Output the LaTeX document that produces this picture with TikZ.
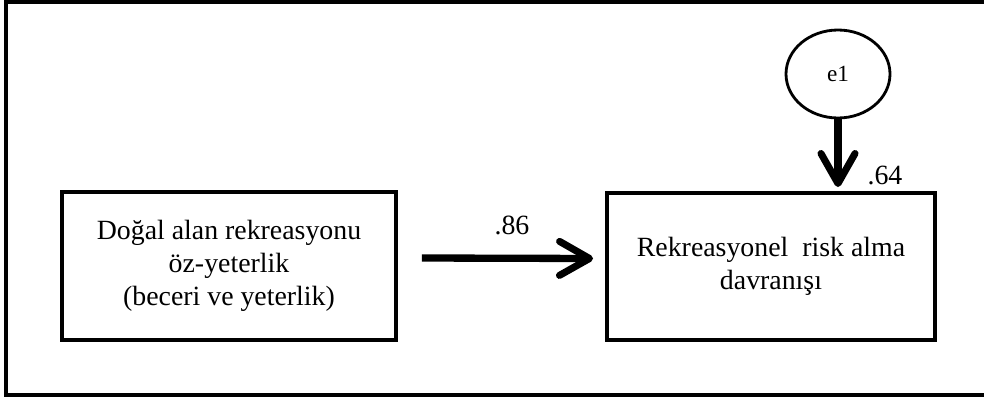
\documentclass[tikz,border=0pt]{standalone}
\usepackage{fontspec}
\setmainfont{Liberation Serif}
\usetikzlibrary{arrows.meta,shapes.geometric}

\begin{document}
\begin{tikzpicture}[
  varbox/.style={draw, line width=2.8pt, align=center, font=\fontsize{19.8}{23.4}\selectfont},
  errnode/.style={draw, ellipse, line width=2pt, minimum width=2.6cm, minimum height=2.2cm, font=\fontsize{16.5}{19}\selectfont},
  patharrow/.style={line width=5.2pt, -{Straight Barb[length=0.75cm,width=0.85cm,round,line width=5pt]}},
  coef/.style={font=\fontsize{19.8}{23.4}\selectfont}
]
\useasboundingbox (0,0) rectangle (24.6,9.925);
\draw [line width=2.8pt] (24.6,9.87) -- (0.16,9.87) -- (0.16,0.06) -- (24.6,0.06);
\node [varbox, minimum width=8.35cm, minimum height=3.7cm] (dogal) at (5.725,3.275) {Do\u{g}al alan rekreasyonu\\\"oz-yeterlik\\(beceri ve yeterlik)};
\node [varbox, minimum width=8.2cm, minimum height=3.675cm] (risk) at (19.275,3.2625) {Rekreasyonel\ \ risk alma\\davran\i\c{s}\i};
\node [errnode] (e1) at (20.95,8.075) {e1};
\draw [patharrow] ([xshift=0.6cm,yshift=0.2cm]dogal.east) -- ([xshift=-0.3cm,yshift=0.2cm]risk.west);
\draw [patharrow] (e1) -- ([yshift=0.1cm]e1 |- risk.north);
\node [coef] (b86) at (12.8,4.3) {.86};
\node [coef] (b64) at (22.125,5.55) {.64};
\end{tikzpicture}
\end{document}
